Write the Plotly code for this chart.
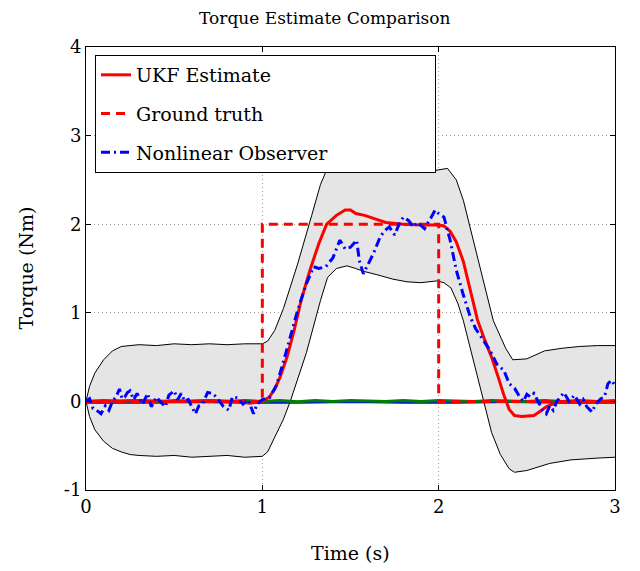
import plotly.graph_objects as go

# ---------------- data ----------------
band_t_up = [0.0, 0.02, 0.05, 0.1, 0.15, 0.2, 0.3, 0.4, 0.5, 0.6, 0.7, 0.8, 0.9, 1.0,
             1.03, 1.07, 1.12, 1.2, 1.28, 1.33, 1.36, 1.5, 1.7, 1.9, 1.96, 2.05, 2.1,
             2.14, 2.2, 2.31, 2.38, 2.42, 2.5, 2.6, 2.7, 2.8, 2.9, 3.0]
band_upper = [0.0, 0.17, 0.32, 0.47, 0.57, 0.62, 0.64, 0.63, 0.65, 0.64, 0.65, 0.64, 0.65, 0.65,
              0.68, 0.8, 1.05, 1.55, 2.1, 2.45, 2.59, 2.6, 2.6, 2.6, 2.6, 2.63, 2.5,
              2.27, 1.8, 0.91, 0.6, 0.47, 0.48, 0.57, 0.6, 0.62, 0.63, 0.63]

band_t_lo = [0.0, 0.02, 0.05, 0.1, 0.15, 0.2, 0.25, 0.3, 0.4, 0.5, 0.6, 0.7, 0.8, 0.9, 1.0,
             1.03, 1.07, 1.12, 1.16, 1.25, 1.33, 1.37, 1.42, 1.48, 1.53, 1.57, 1.65, 1.74,
             1.82, 1.9, 1.99, 2.03, 2.07, 2.11, 2.14, 2.2, 2.255, 2.3, 2.35, 2.4, 2.43,
             2.5, 2.63, 2.75, 2.9, 3.0]
band_lower = [0.0, -0.17, -0.32, -0.45, -0.53, -0.57, -0.6, -0.61, -0.62, -0.61, -0.63, -0.62, -0.61, -0.63, -0.62,
              -0.57, -0.4, -0.2, 0.01, 0.55, 1.14, 1.4, 1.5, 1.53, 1.5, 1.47, 1.43, 1.38,
              1.35, 1.34, 1.36, 1.34, 1.28, 1.1, 0.91, 0.45, 0.01, -0.35, -0.6, -0.76, -0.8,
              -0.78, -0.7, -0.66, -0.64, -0.63]

ukf_t = [0.0, 0.3, 0.5, 0.7, 0.85, 0.93, 1.0, 1.04, 1.07, 1.1, 1.14, 1.18, 1.22, 1.27, 1.32,
         1.365, 1.42, 1.47, 1.5, 1.53, 1.58, 1.65, 1.7, 1.8, 1.9, 2.0, 2.03, 2.065, 2.1,
         2.14, 2.18, 2.22, 2.26, 2.3, 2.34, 2.37, 2.4, 2.43, 2.47, 2.54, 2.57, 2.61, 2.67,
         2.8, 3.0]
ukf_est = [0.0, 0.01, 0.0, 0.01, 0.0, -0.02, 0.0, 0.05, 0.14, 0.27, 0.5, 0.8, 1.14, 1.48, 1.78,
           2.0, 2.1, 2.16, 2.16, 2.12, 2.1, 2.05, 2.02, 2.0, 1.99, 1.99, 1.98, 1.92, 1.8,
           1.58, 1.25, 0.92, 0.7, 0.5, 0.26, 0.07, -0.09, -0.16, -0.17, -0.16, -0.12, -0.06, -0.01,
           0.0, 0.0]

truth_t = [0.0, 1.0, 1.0, 2.0, 2.0, 3.0]
truth = [0.0, 0.0, 2.0, 2.0, 0.0, 0.0]

obs_t = [0.0, 0.02, 0.04, 0.06, 0.085, 0.11, 0.13, 0.15, 0.17, 0.19, 0.205, 0.22, 0.235, 0.25,
         0.27, 0.29, 0.32, 0.35, 0.37, 0.4, 0.42, 0.45, 0.47, 0.5, 0.52, 0.54, 0.56, 0.58,
         0.6, 0.62, 0.64, 0.66, 0.69, 0.72, 0.75, 0.78, 0.81, 0.83, 0.86, 0.89, 0.92, 0.95,
         0.97, 1.0, 1.04, 1.08, 1.12, 1.16, 1.195, 1.22, 1.25, 1.27, 1.29, 1.32, 1.36, 1.4,
         1.44, 1.47, 1.5, 1.535, 1.55, 1.573, 1.6, 1.63, 1.667, 1.69, 1.72, 1.75, 1.78, 1.8,
         1.83, 1.856, 1.88, 1.92, 1.95, 1.98, 2.0, 2.03, 2.065, 2.1, 2.14, 2.18, 2.21, 2.25,
         2.29, 2.33, 2.37, 2.4, 2.43, 2.46, 2.48, 2.5, 2.52, 2.54, 2.57, 2.59, 2.61, 2.63,
         2.65, 2.67, 2.69, 2.71, 2.74, 2.77, 2.8, 2.82, 2.84, 2.87, 2.89, 2.92, 2.94, 2.96,
         2.98, 3.0]
observer = [0.0, 0.03, -0.08, -0.1, -0.14, -0.05, -0.1, 0.0, 0.05, 0.14, 0.03, 0.05, 0.1, 0.12,
            0.02, 0.09, -0.03, 0.09, -0.06, 0.05, 0.0, -0.06, 0.07, 0.12, 0.02, 0.09, 0.0, 0.02,
            -0.06, -0.14, -0.05, -0.03, 0.1, 0.09, 0.02, -0.06, -0.1, 0.05, 0.04, -0.03, 0.02, -0.14,
            -0.03, 0.02, 0.04, 0.18, 0.45, 0.75, 0.99, 1.15, 1.33, 1.42, 1.52, 1.5, 1.52, 1.62,
            1.82, 1.72, 1.74, 1.82, 1.59, 1.44, 1.55, 1.67, 1.85, 1.92, 1.97, 1.88, 2.02, 2.08,
            2.04, 1.97, 2.02, 1.95, 2.05, 2.16, 2.12, 2.08, 1.82, 1.48, 1.2, 0.95, 0.82, 0.7,
            0.58, 0.42, 0.35, 0.2, 0.15, 0.05, 0.0, 0.08, 0.05, 0.09, -0.03, -0.1, -0.14, -0.05,
            -0.1, 0.0, 0.05, 0.1, 0.0, 0.07, -0.03, 0.02, -0.06, -0.12, -0.03, 0.03, 0.05, 0.2,
            0.24, 0.18]

flat_t = [0.0, 0.3, 0.6, 0.9, 1.2, 1.5, 1.8, 2.1, 2.4, 2.7, 3.0]
flat_blue = [-0.01, -0.01, 0.0, -0.01, -0.01, 0.0, -0.01, -0.01, 0.0, -0.01, -0.01]

green_t = [0.0, 0.1, 0.2, 0.3, 0.4, 0.5, 0.6, 0.7, 0.8, 0.9, 1.0, 1.1, 1.2, 1.3, 1.4, 1.5,
           1.6, 1.7, 1.8, 1.9, 2.0, 2.1, 2.2, 2.3, 2.4, 2.5, 2.6, 2.7, 2.8, 2.9, 3.0]
green = [0.0, 0.01, 0.0, 0.01, -0.01, 0.01, 0.0, 0.01, 0.0, 0.01, 0.0, 0.01, -0.005, 0.01, 0.0, 0.01,
         0.005, 0.0, 0.01, 0.0, 0.01, 0.005, 0.0, 0.01, 0.005, 0.0, 0.01, 0.0, 0.01, 0.0, 0.01]

x_ticks = [0, 1, 2, 3]
y_ticks = [-1, 0, 1, 2, 3, 4]
y_tick_text = ["-1", "0", "1", "2", "3", "4"]

FONT = "DejaVu Serif"
PAD = "\u00a0" * 17

fig = go.Figure()

# covariance band
fig.add_trace(go.Scatter(x=band_t_lo, y=band_lower, mode="lines",
                         line=dict(color="black", width=1), showlegend=False, hoverinfo="skip"))
fig.add_trace(go.Scatter(x=band_t_up, y=band_upper, mode="lines",
                         line=dict(color="black", width=1), fill="tonexty",
                         fillcolor="#e5e5e5", showlegend=False, hoverinfo="skip"))

fig.add_trace(go.Scatter(x=flat_t, y=flat_blue, mode="lines",
                         line=dict(color="#0000ff", width=3), showlegend=False))
fig.add_trace(go.Scatter(x=green_t, y=green, mode="lines",
                         line=dict(color="#008000", width=3), showlegend=False))

fig.add_trace(go.Scatter(x=ukf_t, y=ukf_est, mode="lines", name="UKF Estimate",
                         legendgroup="a", legendrank=1,
                         line=dict(color="#ff0000", width=3)))
fig.add_trace(go.Scatter(x=truth_t, y=truth, mode="lines", name="Ground truth",
                         legendgroup="b", legendrank=2,
                         line=dict(color="#ff0000", width=3, dash="9px,6px")))
fig.add_trace(go.Scatter(x=obs_t, y=observer, mode="lines", name="Nonlinear Observer" + PAD,
                         legendgroup="c", legendrank=3,
                         line=dict(color="#0000ff", width=3, dash="9px,4px,2px,4px")))

axis_common = dict(showline=True, linecolor="black", linewidth=1, mirror="ticks",
                   ticks="inside", ticklen=5, tickcolor="black",
                   showgrid=True, gridcolor="#9a9a9a", griddash="1px,3px", gridwidth=1,
                   zeroline=False, tickfont=dict(family=FONT, size=18, color="black"))

fig.update_xaxes(range=[0, 3], tickvals=x_ticks, **axis_common)
fig.update_yaxes(range=[-1, 4], tickvals=y_ticks, ticktext=y_tick_text, **axis_common)

fig.update_layout(
    width=640, height=571,
    margin=dict(l=78, r=33, t=39, b=89),
    paper_bgcolor="white", plot_bgcolor="white",
    font=dict(family=FONT, color="black"),
    title=dict(text="Torque Estimate Comparison", x=0.495, xanchor="center",
               y=0.993, yanchor="top", pad=dict(t=0, b=0),
               font=dict(family=FONT, size=17)),
    legend=dict(x=0.017, y=0.982, xanchor="left", yanchor="top",
                bgcolor="white", bordercolor="black", borderwidth=1,
                font=dict(family=FONT, size=19), traceorder="grouped",
                tracegroupgap=11),
    annotations=[
        dict(text="Time (s)", xref="paper", yref="paper", x=0.5, y=0,
             yanchor="middle", yshift=-63, showarrow=False,
             font=dict(family=FONT, size=19)),
        dict(text="Torque (Nm)", xref="paper", yref="paper", x=0, y=0.5,
             xanchor="center", xshift=-61, textangle=-90, showarrow=False,
             font=dict(family=FONT, size=19)),
    ],
)

fig.write_html("out.html")
